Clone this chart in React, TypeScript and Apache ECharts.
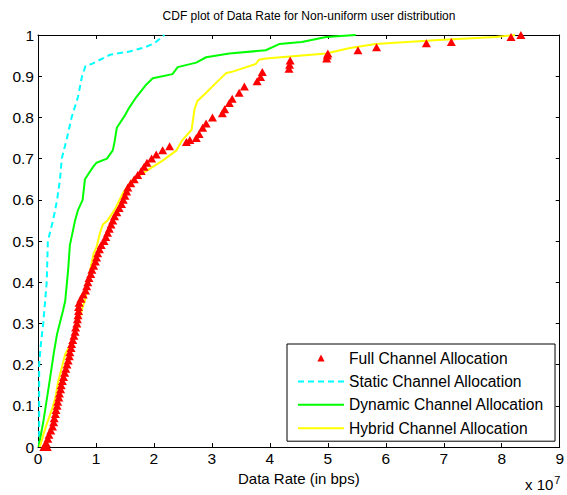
import React, { useEffect, useRef } from "react";
import * as echarts from "echarts";

// Data rates are in units of 1e7 bps (the axis carries a "x 10^7" multiplier).

// Full Channel Allocation: empirical CDF samples (rate, probability)
const fullRate = [
  0.1, 0.16, 0.14, 0.17, 0.19, 0.22, 0.25, 0.27, 0.28, 0.3, 0.31, 0.33, 0.34, 0.36,
  0.37, 0.39, 0.4, 0.42, 0.44, 0.46, 0.48, 0.5, 0.52, 0.54, 0.55, 0.57, 0.58, 0.6,
  0.62, 0.64, 0.65, 0.67, 0.68, 0.69, 0.7, 0.7, 0.71, 0.74, 0.78, 0.82, 0.84, 0.86,
  0.88, 0.91, 0.93, 0.96, 0.99, 1.01, 1.03, 1.06, 1.09, 1.14, 1.17, 1.2, 1.23, 1.26,
  1.29, 1.32, 1.36, 1.4, 1.44, 1.47, 1.5, 1.53, 1.55, 1.6, 1.66, 1.72, 1.78, 1.83,
  1.88, 1.96, 2.04, 2.15, 2.27, 2.56, 2.62, 2.73, 2.78, 2.84, 2.9, 3.01, 3.18, 3.22,
  3.3, 3.35, 3.47, 3.56, 3.78, 3.84, 3.87, 4.33, 4.34, 4.35, 4.98, 4.99, 5.0, 5.52,
  5.84, 6.7, 7.13, 8.16, 8.33,
];
const fullProb = [
  0, 0, 0.01, 0.02, 0.03, 0.04, 0.05, 0.06, 0.07, 0.08, 0.09, 0.1, 0.11, 0.12,
  0.13, 0.14, 0.15, 0.16, 0.17, 0.18, 0.19, 0.2, 0.21, 0.22, 0.23, 0.24, 0.25, 0.26,
  0.27, 0.28, 0.29, 0.3, 0.31, 0.32, 0.33, 0.34, 0.35, 0.36, 0.37, 0.38, 0.39, 0.4,
  0.41, 0.42, 0.43, 0.44, 0.45, 0.46, 0.47, 0.48, 0.49, 0.5, 0.51, 0.52, 0.53, 0.54,
  0.55, 0.56, 0.57, 0.58, 0.59, 0.6, 0.61, 0.62, 0.63, 0.64, 0.65, 0.66, 0.67, 0.68,
  0.69, 0.7, 0.71, 0.72, 0.73, 0.74, 0.745, 0.75, 0.76, 0.775, 0.785, 0.8, 0.81, 0.82,
  0.835, 0.845, 0.86, 0.875, 0.888, 0.898, 0.91, 0.918, 0.928, 0.938, 0.943, 0.95, 0.955, 0.963,
  0.97, 0.98, 0.983, 0.995, 1.0,
];

// Static Channel Allocation
const staticRate = [
  0.02, 0.02, 0.02, 0.05, 0.09, 0.15, 0.17, 0.26, 0.33, 0.38, 0.41, 0.5, 0.58, 0.69,
  0.76, 0.82, 0.93, 1.24, 1.58, 1.84, 2.01, 2.18,
];
const staticProb = [
  0, 0.1, 0.2, 0.25, 0.3, 0.4, 0.5, 0.55, 0.6, 0.65, 0.7, 0.75, 0.8, 0.85, 0.9, 0.925,
  0.93, 0.952, 0.96, 0.97, 0.98, 1.0,
];

// Dynamic Channel Allocation
const dynamicRate = [
  0.01, 0.09, 0.19, 0.27, 0.33, 0.43, 0.47, 0.5, 0.52, 0.55, 0.64, 0.69, 0.77, 0.81,
  0.95, 1.01, 1.19, 1.29, 1.32, 1.36, 1.5, 1.58, 1.7, 1.87, 1.98, 2.32, 2.41, 2.73,
  2.9, 3.3, 3.93, 4.16, 4.55, 4.97, 5.48,
];
const dynamicProb = [
  0, 0.06, 0.15, 0.226, 0.275, 0.33, 0.355, 0.4, 0.43, 0.49, 0.55, 0.575, 0.6, 0.65,
  0.68, 0.69, 0.7, 0.72, 0.74, 0.775, 0.805, 0.825, 0.85, 0.88, 0.895, 0.905, 0.922,
  0.933, 0.946, 0.955, 0.963, 0.978, 0.983, 0.995, 1.0,
];

// Hybrid Channel Allocation
const hybridRate = [
  0.03, 0.13, 0.25, 0.3, 0.35, 0.47, 0.58, 0.67, 0.77, 0.81, 0.9, 0.96, 1.01, 1.07,
  1.12, 1.2, 1.32, 1.46, 1.62, 1.87, 2.15, 2.39, 2.49, 2.65, 2.7, 2.75, 2.9, 3.08,
  3.25, 3.33, 3.76, 3.81, 3.93, 4.97, 5.36, 5.82, 6.91, 7.89, 8.23,
];
const hybridProb = [
  0, 0.047, 0.095, 0.12, 0.16, 0.225, 0.255, 0.285, 0.34, 0.355, 0.43, 0.47, 0.485,
  0.52, 0.54, 0.55, 0.575, 0.615, 0.647, 0.67, 0.695, 0.72, 0.745, 0.77, 0.82, 0.84,
  0.86, 0.885, 0.908, 0.91, 0.93, 0.94, 0.943, 0.955, 0.968, 0.978, 0.988, 0.995, 1.0,
];

const xTickMax = 9;
const yTickMax = 1;

const FONT = "'Liberation Sans', Arial, Helvetica, sans-serif";

const pairs = (xs: number[], ys: number[]) => xs.map((x, i) => [x, ys[i]]);

export default function App() {
  const ref = useRef<HTMLDivElement>(null);

  useEffect(() => {
    if (!ref.current) return;
    const chart = echarts.init(ref.current, undefined, { renderer: "svg" });

    const axisLine = { show: true, onZero: false, lineStyle: { color: "#000", width: 1 } };
    const innerTick = { show: true, inside: true, length: 4, lineStyle: { color: "#000" } };
    const tickLabel = { color: "#000", fontSize: 15.5, fontFamily: FONT };
    // line-only legend entries: hide the marker drawn in the middle of the key
    const noMarker = { opacity: 0 };

    chart.setOption({
      animation: false,
      backgroundColor: "#fff",
      title: {
        text: "CDF plot of Data Rate for Non-uniform user distribution",
        left: 309,
        top: 10,
        padding: 0,
        textAlign: "center",
        textStyle: { color: "#000", fontSize: 12, fontWeight: "normal", fontFamily: FONT },
      },
      grid: { left: 38, right: 5, top: 35, bottom: 48, containLabel: false },
      xAxis: [
        {
          type: "value",
          position: "bottom",
          min: 0,
          max: xTickMax,
          interval: 1,
          name: "Data Rate (in bps)",
          nameLocation: "middle",
          nameGap: 24,
          nameTextStyle: { color: "#000", fontSize: 15, fontFamily: FONT },
          axisLine,
          axisTick: innerTick,
          axisLabel: { ...tickLabel, margin: 3 },
          splitLine: { show: false },
        },
        {
          type: "value",
          position: "top",
          min: 0,
          max: xTickMax,
          interval: 1,
          axisLine,
          axisTick: innerTick,
          axisLabel: { show: false },
          splitLine: { show: false },
        },
      ],
      yAxis: [
        {
          type: "value",
          position: "left",
          min: 0,
          max: yTickMax,
          interval: 0.1,
          axisLine,
          axisTick: innerTick,
          axisLabel: { ...tickLabel, margin: 4 },
          splitLine: { show: false },
        },
        {
          type: "value",
          position: "right",
          min: 0,
          max: yTickMax,
          interval: 0.1,
          axisLine,
          axisTick: innerTick,
          axisLabel: { show: false },
          splitLine: { show: false },
        },
      ],
      legend: {
        orient: "vertical",
        left: 287,
        top: 344,
        padding: [6, 11, 5, 10],
        itemWidth: 46,
        itemHeight: 9,
        itemGap: 7.4,
        borderColor: "#000",
        borderWidth: 1,
        backgroundColor: "#fff",
        textStyle: { color: "#000", fontSize: 15.6, fontFamily: FONT },
        data: [
          { name: "Full Channel Allocation" },
          { name: "Static Channel Allocation", itemStyle: noMarker },
          { name: "Dynamic Channel Allocation", itemStyle: noMarker },
          { name: "Hybrid Channel Allocation", itemStyle: noMarker },
        ],
      },
      graphic: [
        {
          type: "text",
          left: 525,
          top: 474,
          style: {
            text: "x 10{sup|7}",
            fill: "#000",
            font: `15px ${FONT}`,
            rich: {
              sup: { fontSize: 11, fontFamily: FONT, fill: "#000", verticalAlign: "top", padding: [0, 0, 10, 1] },
            },
          },
        },
      ],
      series: [
        {
          // markers only: the connecting line is kept invisible
          name: "Full Channel Allocation",
          type: "line",
          symbol: "triangle",
          symbolSize: [9, 8],
          showSymbol: true,
          showAllSymbol: true,
          lineStyle: { opacity: 0, width: 0 },
          itemStyle: { color: "#ff0000", borderWidth: 0 },
          data: pairs(fullRate, fullProb),
        },
        {
          name: "Static Channel Allocation",
          type: "line",
          symbol: "none",
          lineStyle: { color: "#00ffff", width: 2, type: [6, 4] },
          itemStyle: { color: "#00ffff" },
          data: pairs(staticRate, staticProb),
        },
        {
          name: "Dynamic Channel Allocation",
          type: "line",
          symbol: "none",
          lineStyle: { color: "#00ff00", width: 2 },
          itemStyle: { color: "#00ff00" },
          data: pairs(dynamicRate, dynamicProb),
        },
        {
          name: "Hybrid Channel Allocation",
          type: "line",
          symbol: "none",
          lineStyle: { color: "#ffff00", width: 2 },
          itemStyle: { color: "#ffff00" },
          data: pairs(hybridRate, hybridProb),
        },
      ],
    });

    return () => chart.dispose();
  }, []);

  return (
    <div
      ref={ref}
      style={{ position: "absolute", left: 0, top: 0, width: 567, height: 495 }}
    />
  );
}
